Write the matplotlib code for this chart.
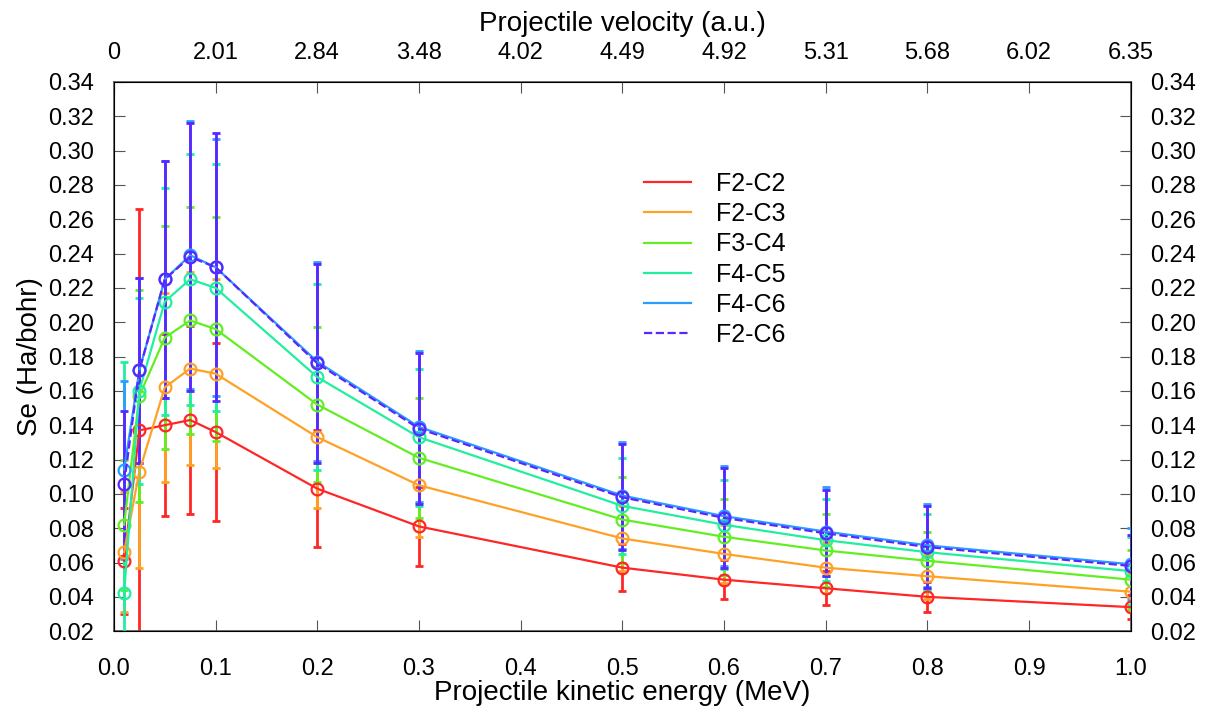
import matplotlib
matplotlib.use("Agg")
import matplotlib.pyplot as plt
import numpy as np

plt.rcParams["font.family"] = ["Liberation Sans", "DejaVu Sans"]

# projectile kinetic energy (MeV)
energy = [0.01, 0.025, 0.05, 0.075, 0.1, 0.2, 0.3, 0.5, 0.6, 0.7, 0.8, 1.0]

# stopping power Se (Ha/bohr) and error bars for each basis set
se_f2c2 = [0.061, 0.137, 0.140, 0.143, 0.136, 0.103, 0.081, 0.057, 0.050, 0.045, 0.040, 0.034]
err_f2c2 = [0.031, 0.129, 0.053, 0.055, 0.052, 0.034, 0.023, 0.0135, 0.0115, 0.010, 0.0086, 0.0068]

se_f2c3 = [0.066, 0.113, 0.162, 0.173, 0.170, 0.133, 0.105, 0.074, 0.065, 0.057, 0.052, 0.043]
err_f2c3 = [0.035, 0.056, 0.055, 0.056, 0.055, 0.041, 0.030, 0.019, 0.017, 0.015, 0.013, 0.011]

se_f3c4 = [0.082, 0.157, 0.191, 0.201, 0.196, 0.152, 0.121, 0.085, 0.075, 0.067, 0.061, 0.050]
err_f3c4 = [0.038, 0.062, 0.065, 0.066, 0.065, 0.045, 0.035, 0.025, 0.022, 0.021, 0.0165, 0.017]

se_f4c5 = [0.042, 0.160, 0.212, 0.225, 0.220, 0.168, 0.133, 0.093, 0.082, 0.073, 0.066, 0.055]
err_f4c5 = [0.135, 0.054, 0.066, 0.073, 0.072, 0.054, 0.040, 0.028, 0.026, 0.024, 0.022, 0.020]

se_f4c6 = [0.114, 0.172, 0.225, 0.239, 0.232, 0.177, 0.139, 0.099, 0.087, 0.078, 0.070, 0.059]
err_f4c6 = [0.052, 0.054, 0.069, 0.078, 0.075, 0.058, 0.044, 0.031, 0.029, 0.026, 0.024, 0.021]

se_f2c6 = [0.106, 0.172, 0.225, 0.238, 0.232, 0.176, 0.138, 0.098, 0.086, 0.077, 0.069, 0.058]
err_f2c6 = [0.042, 0.054, 0.069, 0.078, 0.078, 0.058, 0.044, 0.031, 0.029, 0.025, 0.024, 0.018]

labels = ["F2-C2", "F2-C3", "F3-C4", "F4-C5", "F4-C6", "F2-C6"]
colors = ["#ff2626", "#ffa126", "#62ee22", "#22eea0", "#2a9dff", "#5a26ff"]

# top axis: projectile velocity (a.u.) at each 0.1 MeV tick
energy_ticks = [0.0, 0.1, 0.2, 0.3, 0.4, 0.5, 0.6, 0.7, 0.8, 0.9, 1.0]
velocity_labels = ["0", "2.01", "2.84", "3.48", "4.02", "4.49", "4.92", "5.31", "5.68", "6.02", "6.35"]

series = [
    (se_f2c2, err_f2c2),
    (se_f2c3, err_f2c3),
    (se_f3c4, err_f3c4),
    (se_f4c5, err_f4c5),
    (se_f4c6, err_f4c6),
    (se_f2c6, err_f2c6),
]

fig = plt.figure(figsize=(12.12, 7.06), dpi=100)
ax = fig.add_axes([0.094, 0.106, 0.839, 0.778])

for i, (se, err) in enumerate(series):
    ls = "--" if labels[i] == "F2-C6" else "-"
    ax.errorbar(energy, se, yerr=err, fmt="none", ecolor=colors[i],
                elinewidth=2, capsize=3, capthick=2, zorder=2 + i)
    ax.plot(energy, se, ls, color=colors[i], lw=1.6, label=labels[i],
            marker="o", markersize=8.5, markerfacecolor="none",
            markeredgewidth=1.6, zorder=10 + i)

ax.set_xlim(0.0, 1.0)
ax.set_ylim(0.02, 0.34)
ax.set_xticks(energy_ticks)
ax.set_yticks(np.arange(0.02, 0.341, 0.02))
ax.xaxis.set_major_formatter(matplotlib.ticker.FormatStrFormatter("%.1f"))
ax.yaxis.set_major_formatter(matplotlib.ticker.FormatStrFormatter("%.2f"))
ax.tick_params(axis="both", direction="in", length=8, labelsize=17,
               right=True, labelright=True, color="#555555")
ax.tick_params(axis="x", pad=19)
ax.tick_params(axis="y", pad=14)
ax.set_xlabel("Projectile kinetic energy (MeV)", fontsize=20, labelpad=0)
ax.set_ylabel("Se (Ha/bohr)", fontsize=20, labelpad=4)
for s in ax.spines.values():
    s.set_color("#555555")
    s.set_linewidth(1.2)

top = ax.twiny()
top.set_xlim(ax.get_xlim())
top.set_xticks(energy_ticks)
top.set_xticklabels(velocity_labels)
top.tick_params(axis="x", direction="in", length=8, labelsize=17, pad=13,
                color="#555555")
top.set_xlabel("Projectile velocity (a.u.)", fontsize=20, labelpad=8)

leg = ax.legend(loc="upper left", bbox_to_anchor=(0.504, 0.868), frameon=False,
                fontsize=18, handlelength=1.9, handletextpad=1.0,
                labelspacing=0.25, borderpad=0.2)
for h in leg.get_lines():
    h.set_marker("")

fig.savefig("out.png", dpi=100)
